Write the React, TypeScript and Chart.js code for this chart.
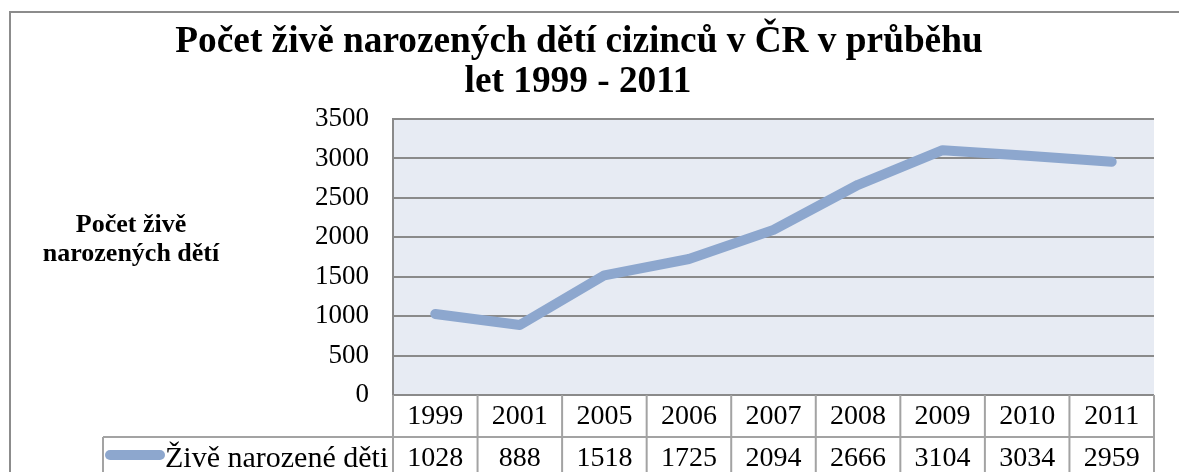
import React, { useEffect, useRef } from "react";
import { Chart, registerables } from "chart.js";

Chart.register(...registerables);

const categories = ["1999", "2001", "2005", "2006", "2007", "2008", "2009", "2010", "2011"];
const births = [1028, 888, 1518, 1725, 2094, 2666, 3104, 3034, 2959];
const seriesLabel = "Živě narozené děti";
const titleLines = ["Počet živě narozených dětí cizinců v ČR v průběhu", "let 1999 - 2011"];
const yTitleLines = ["Počet živě", "narozených dětí"];
const yMin = 0;
const yMax = 3500;
const yStep = 500;

const SERIF = "'Liberation Serif', 'Times New Roman', serif";
const LINE_COLOR = "#8da7ce";
const GRID_COLOR = "#8a8a8a";
const TABLE_COLOR = "#a3a3a3";

const decorPlugin = {
  id: "excelDecor",
  beforeDraw(chart: any) {
    const { ctx, chartArea: a, width, height } = chart;
    ctx.save();
    ctx.fillStyle = "#ffffff";
    ctx.fillRect(0, 0, width, height);
    ctx.strokeStyle = "#8c8c8c";
    ctx.lineWidth = 2;
    ctx.strokeRect(10, 12, width + 40, height + 40);
    ctx.fillStyle = "#e7ebf3";
    ctx.fillRect(a.left, a.top, a.right - a.left, a.bottom - a.top);
    ctx.restore();
  },
  afterDraw(chart: any) {
    const { ctx, chartArea: a } = chart;
    const x = chart.scales.x;
    ctx.save();
    ctx.fillStyle = "#000";
    // title
    ctx.font = `bold 37.3px ${SERIF}`;
    ctx.textAlign = "center";
    ctx.textBaseline = "alphabetic";
    ctx.fillText(titleLines[0], 579, 52);
    ctx.fillText(titleLines[1], 578, 92);
    // y-axis title
    ctx.font = `bold 26px ${SERIF}`;
    ctx.fillText(yTitleLines[0], 131, 232);
    ctx.fillText(yTitleLines[1], 131, 261);

    // data table
    const n = categories.length;
    const half = (x.getPixelForValue(1) - x.getPixelForValue(0)) / 2;
    const top = a.bottom;
    const rowH = 42;
    const mid = top + rowH;
    const bottom = top + rowH * 2;
    const legendLeft = 103;
    ctx.strokeStyle = TABLE_COLOR;
    ctx.lineWidth = 2;
    ctx.beginPath();
    ctx.moveTo(legendLeft, mid);
    ctx.lineTo(a.right, mid);
    ctx.moveTo(legendLeft, mid);
    ctx.lineTo(legendLeft, bottom);
    ctx.moveTo(legendLeft, bottom);
    ctx.lineTo(a.right, bottom);
    for (let i = 0; i < n; i++) {
      const l = x.getPixelForValue(i) - half;
      ctx.moveTo(l, top);
      ctx.lineTo(l, bottom);
    }
    ctx.moveTo(a.right, top);
    ctx.lineTo(a.right, bottom);
    ctx.stroke();

    ctx.font = `28px ${SERIF}`;
    ctx.textAlign = "center";
    ctx.textBaseline = "middle";
    for (let i = 0; i < n; i++) {
      const cx = x.getPixelForValue(i);
      ctx.fillText(categories[i], cx, top + rowH / 2 + 1);
      ctx.fillText(String(births[i]), cx, mid + rowH / 2 + 1);
    }
    // legend key
    ctx.strokeStyle = LINE_COLOR;
    ctx.lineWidth = 10;
    ctx.lineCap = "round";
    ctx.beginPath();
    ctx.moveTo(110, mid + 18);
    ctx.lineTo(160, mid + 18);
    ctx.stroke();
    ctx.font = `30px ${SERIF}`;
    ctx.textAlign = "left";
    ctx.fillText(seriesLabel, 165, mid + rowH / 2 + 1);
    ctx.restore();
  },
};

export default function App() {
  const ref = useRef<HTMLCanvasElement | null>(null);
  useEffect(() => {
    if (!ref.current) return;
    const chart = new Chart(ref.current, {
      type: "line",
      data: {
        labels: categories,
        datasets: [
          {
            label: seriesLabel,
            data: births,
            borderColor: LINE_COLOR,
            backgroundColor: LINE_COLOR,
            borderWidth: 10,
            borderCapStyle: "round",
            borderJoinStyle: "round",
            pointRadius: 0,
            pointHoverRadius: 0,
            tension: 0,
            fill: false,
          },
        ],
      },
      options: {
        responsive: false,
        animation: false,
        layout: { padding: { left: 0, top: 119, right: 25, bottom: 77 } },
        plugins: {
          legend: { display: false },
          title: { display: false },
          tooltip: { enabled: false },
        },
        scales: {
          x: {
            type: "category",
            display: false,
            offset: true,
          },
          y: {
            min: yMin,
            max: yMax,
            afterFit: (s: any) => {
              s.width = 393;
            },
            ticks: {
              stepSize: yStep,
              padding: 24,
              color: "#000",
              font: { family: SERIF, size: 27 },
              callback: (v: any) => String(v),
            },
            grid: {
              color: GRID_COLOR,
              lineWidth: 2,
              drawTicks: false,
            },
            border: { display: true, color: GRID_COLOR, width: 2 },
          },
        },
      },
      plugins: [decorPlugin],
    });
    return () => chart.destroy();
  }, []);
  return (
    <div style={{ position: "fixed", left: 0, top: 0, width: 1179, height: 472, background: "#fff" }}>
      <canvas ref={ref} width={1179} height={472} style={{ display: "block" }} />
    </div>
  );
}
